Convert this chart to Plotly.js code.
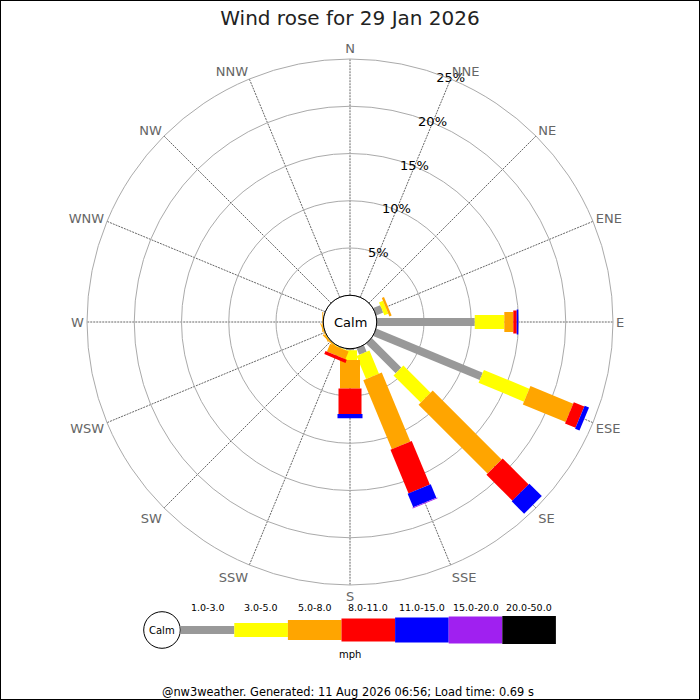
<!DOCTYPE html>
<html>
<head>
<meta charset="utf-8">
<script src="https://cdn.plot.ly/plotly-3.0.1.min.js"></script>
<style>
html,body{margin:0;padding:0;background:#fff;}
#chart{width:700px;height:700px;}
</style>
</head>
<body>
<div id="chart"></div>
<script>
// ---- data ----
const directions = ['N','NNE','NE','ENE','E','ESE','SE','SSE','S','SSW','SW','WSW','W','WNW','NW','NNW'];
const speedClasses = ['1.0-3.0','3.0-5.0','5.0-8.0','8.0-11.0','11.0-15.0','15.0-20.0','20.0-50.0'];
// percentage of time per direction, per speed class (mph)
const pct_1_3   = [0,0,0,0.80,10.37,12.20,4.42,0.75,0.15,0.05,0,0,0,0,0,0];
const pct_3_5   = [0,0,0,0.45,3.13,5.20,4.07,2.65,1.05,0.05,0.05,0.05,0,0,0,0];
const pct_5_8   = [0,0,0,0.25,0.95,4.90,10.31,7.90,3.00,0.90,0.15,0.10,0.10,0,0,0];
const pct_8_11  = [0,0,0,0,0.36,1.20,3.89,5.00,2.70,0.35,0,0,0,0,0,0];
const pct_11_15 = [0,0,0,0,0.17,0.50,1.86,1.55,0.45,0,0,0,0,0,0,0];
const pct_15_20 = [0,0,0,0,0,0,0,0.10,0,0,0,0,0,0,0,0];
const pct_20_50 = [0,0,0,0,0,0,0,0,0,0,0,0,0,0,0,0];
const ringValues = [5,10,15,20,25];
const ringLabels = ['5%','10%','15%','20%','25%'];
const titleText = 'Wind rose for 29 Jan 2026';
const unitText = 'mph';
const footerText = '@nw3weather. Generated: 11 Aug 2026 06:56; Load time: 0.69 s';

// ---- styles ----
const classColors = ['#999999','#ffff00','#ffa500','#ff0000','#0000ff','#a020f0','#000000'];
const classWidths = [8,14,20,23,25,27,28];
const FONT = 'DejaVu Sans, Verdana, sans-serif';

const series = [pct_1_3,pct_3_5,pct_5_8,pct_8_11,pct_11_15,pct_15_20,pct_20_50];

// ---- build stacked radial segments ----
const cum = directions.map(()=>0);
const traces = [];
series.forEach((vals, ci) => {
  const r = [], th = [];
  vals.forEach((v, di) => {
    if (v > 0) {
      r.push(cum[di], cum[di] + v, null);
      th.push(directions[di], directions[di], null);
      cum[di] += v;
    }
  });
  traces.push({
    type: 'scatterpolar', mode: 'lines', r: r, theta: th,
    connectgaps: false, hoverinfo: 'skip', showlegend: false,
    line: {color: classColors[ci], width: classWidths[ci]},
    cliponaxis: false
  });
});
traces.push({
  type: 'scatterpolar', mode: 'text',
  r: ringValues, theta: ringValues.map(()=>'NNE'), text: ringLabels,
  textposition: 'middle center', textfont: {family: FONT, size: 13, color: '#000'},
  hoverinfo: 'skip', showlegend: false, cliponaxis: false
});

// ---- geometry (pixels) ----
const W = 700, H = 700;
const cx = 350, cy = 322, R = 263, calmR = 26.75;
const px = x => x / W, py = y => 1 - y / H;

const shapes = [];
const annotations = [];
// border
shapes.push({type:'rect', xref:'paper', yref:'paper', x0:0, x1:1, y0:0, y1:1, line:{color:'#000', width:2}});
// calm circle
shapes.push({type:'circle', xref:'paper', yref:'paper', x0:px(cx-calmR), x1:px(cx+calmR), y0:py(cy+calmR), y1:py(cy-calmR), line:{color:'#000', width:1}, fillcolor:'rgba(0,0,0,0)'});
annotations.push({xref:'paper', yref:'paper', x:px(cx), y:py(cy), text:'Calm', showarrow:false, font:{family:FONT, size:13, color:'#000'}, xanchor:'center', yanchor:'middle'});

// legend
const legCx = 162, legCy = 630, legR = 18.3, legX0 = 180.7, legSeg = 53.6;
shapes.push({type:'circle', xref:'paper', yref:'paper', x0:px(legCx-legR), x1:px(legCx+legR), y0:py(legCy+legR), y1:py(legCy-legR), line:{color:'#000', width:1}, fillcolor:'#fff'});
annotations.push({xref:'paper', yref:'paper', x:px(legCx), y:py(legCy), text:'Calm', showarrow:false, font:{family:FONT, size:10, color:'#000'}, xanchor:'center', yanchor:'middle'});
speedClasses.forEach((lab, i) => {
  const x0 = legX0 + i*legSeg, x1 = x0 + legSeg, h = classWidths[i];
  shapes.push({type:'rect', xref:'paper', yref:'paper', x0:px(x0), x1:px(x1), y0:py(legCy + h/2), y1:py(legCy - h/2), fillcolor:classColors[i], line:{width:0}});
  annotations.push({xref:'paper', yref:'paper', x:px((x0+x1)/2), y:py(607), text:lab, showarrow:false, font:{family:FONT, size:9.5, color:'#000'}, xanchor:'center', yanchor:'middle'});
});
annotations.push({xref:'paper', yref:'paper', x:px(350), y:py(654), text:unitText, showarrow:false, font:{family:FONT, size:10, color:'#000'}, xanchor:'center', yanchor:'middle'});
annotations.push({xref:'paper', yref:'paper', x:px(348), y:py(692), text:footerText, showarrow:false, font:{family:FONT, size:11.4, color:'#000'}, xanchor:'center', yanchor:'middle'});

const layout = {
  width: W, height: H,
  margin: {l:0, r:0, t:0, b:0},
  paper_bgcolor: '#fff',
  showlegend: false,
  title: {text: titleText, x: 0.5, xanchor: 'center', y: py(18), yanchor: 'middle', font: {family: FONT, size: 20, color: '#222'}},
  polar: {
    domain: {x: [px(cx - R), px(cx + R)], y: [py(cy + R), py(cy - R)]},
    hole: calmR / R,
    bgcolor: 'rgba(0,0,0,0)',
    radialaxis: {range: [0, 25], tickvals: ringValues, showticklabels: false, ticks: '', showline: false, gridcolor: '#aaaaaa', gridwidth: 1},
    angularaxis: {type: 'category', categoryarray: directions, direction: 'clockwise', rotation: 90,
      showline: true, linecolor: '#aaaaaa', linewidth: 1, ticks: '',
      gridcolor: '#666666', griddash: '2px,1px', gridwidth: 1,
      tickfont: {family: FONT, size: 13, color: '#666666'}}
  },
  shapes: shapes,
  annotations: annotations
};

Plotly.newPlot('chart', traces, layout, {staticPlot: true, displayModeBar: false});
</script>
</body>
</html>
